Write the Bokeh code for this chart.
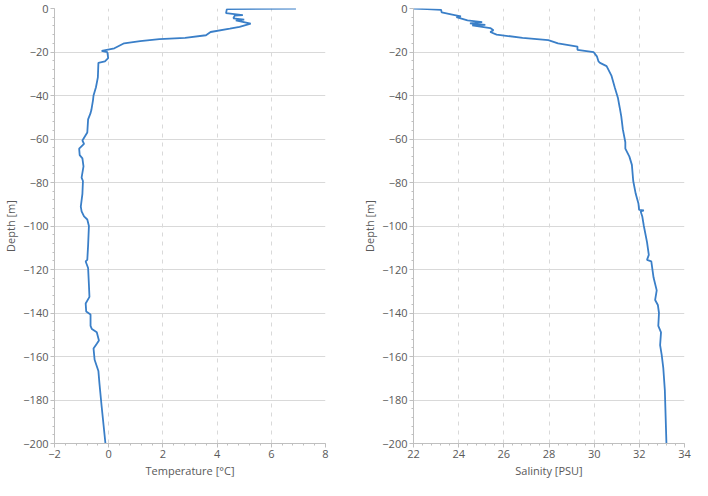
from bokeh.plotting import figure
from bokeh.layouts import row
from bokeh.models import FixedTicker
from bokeh.embed import file_html
from bokeh.resources import INLINE

# Temperature profile (depth in m, temperature in °C)
temp_depth = [0, -0.3, -2.1, -3.0, -3.3, -4.5, -5.1, -5.5, -7.0, -8.5, -9.3, -10.8, -12.3, -13.5,
              -14.1, -15.0, -16.0, -18.3, -19.5, -20.1, -22.8, -24.3, -25.0, -31.7, -36.2, -40.0,
              -42.2, -46.7, -48.1, -51.0, -57.0, -60.7, -62.2, -64.4, -67.4, -68.9, -72.6, -77.8,
              -79.3, -85.2, -91.1, -93.3, -95.6, -97.0, -100.0, -108.9, -115.6, -116.3, -119.3,
              -127.0, -132.6, -135.6, -139.3, -140.7, -145.9, -147.4, -148.9, -152.6, -154.1,
              -156.3, -161.5, -166.7, -172.6, -183.0, -200.0]
temp_values = [6.91, 4.36, 4.33, 4.95, 4.65, 4.60, 5.00, 4.69, 5.24, 4.83, 4.47, 3.76, 3.59, 2.82,
               1.87, 1.16, 0.57, 0.21, -0.26, -0.05, -0.02, -0.14, -0.38, -0.40, -0.47, -0.56,
               -0.58, -0.64, -0.67, -0.76, -0.79, -0.97, -0.91, -1.09, -1.07, -0.97, -0.93, -1.00,
               -0.95, -0.97, -1.03, -1.00, -0.91, -0.79, -0.73, -0.76, -0.79, -0.85, -0.76,
               -0.73, -0.71, -0.85, -0.83, -0.67, -0.67, -0.62, -0.44, -0.36, -0.44,
               -0.56, -0.52, -0.38, -0.34, -0.26, -0.12]

# Salinity profile (depth in m, salinity in PSU)
sal_depth = [0, -0.3, -0.6, -1.8, -3.0, -3.6, -4.0, -5.5, -6.3, -6.8, -7.5, -7.8, -9.0, -10.0,
             -10.8, -12.0, -13.5, -14.5, -16.0, -17.5, -19.0, -20.1, -22.0, -24.3, -25.0, -26.5,
             -31.0, -36.2, -41.0, -45.5, -49.6, -55.6, -61.5, -64.4, -68.1, -71.9, -79.3, -85.2,
             -89.6, -92.6, -92.8, -93.3, -95.6, -100.0, -107.4, -113.3, -115.6, -116.3, -123.7,
             -129.6, -134.0, -136.3, -140.0, -145.9, -148.9, -154.8, -159.3, -165.2, -175.6, -200.0]
sal_values = [22.0, 22.6, 23.22, 23.25, 23.82, 24.10, 23.90, 24.39, 25.04, 24.50, 25.18, 24.60,
              25.40, 25.54, 25.40, 25.68, 26.83, 27.97, 28.40, 29.26, 29.26, 29.98, 30.12, 30.19,
              30.26, 30.55, 30.77, 30.91, 31.05, 31.13, 31.20, 31.27, 31.38, 31.38, 31.56, 31.67,
              31.73, 31.84, 31.96, 31.99, 32.20, 32.06, 32.13, 32.20, 32.34, 32.42, 32.34, 32.53,
              32.63, 32.77, 32.70, 32.82, 32.87, 32.84, 32.96, 32.92, 32.99, 33.06, 33.13, 33.20]

depth_ticks = [-200, -180, -160, -140, -120, -100, -80, -60, -40, -20, 0]
temp_ticks = [-2, 0, 2, 4, 6, 8]
sal_ticks = [22, 24, 26, 28, 30, 32, 34]

LINE = "#3a7fc8"
FONT = "Open Sans"
TXT = "#595959"
GRID = "#d9d9d9"


def minor_between(ticks, n=5):
    out = []
    for a, b in zip(ticks[:-1], ticks[1:]):
        step = (b - a) / n
        out.extend(a + step * k for k in range(n))
    out.append(ticks[-1])
    return out


def make(xr, xticks, xlabel, width, mbl, mbr):
    p = figure(width=width, height=480, x_range=xr, y_range=(-200, 0),
               output_backend="svg", toolbar_location=None,
               min_border_left=mbl, min_border_right=mbr, min_border_top=8,
               min_border_bottom=30)
    p.outline_line_color = None
    p.background_fill_color = "white"
    p.border_fill_color = "white"
    p.xaxis.ticker = FixedTicker(ticks=xticks, minor_ticks=minor_between(xticks))
    p.yaxis.ticker = FixedTicker(ticks=depth_ticks, minor_ticks=minor_between(depth_ticks))
    for ax in (p.xaxis[0], p.yaxis[0]):
        ax.axis_line_color = "#bfbfbf"
        ax.major_tick_line_color = "#bfbfbf"
        ax.minor_tick_line_color = "#bfbfbf"
        ax.major_tick_out = 4
        ax.major_tick_in = 0
        ax.minor_tick_out = 2
        ax.minor_tick_in = 0
        ax.major_label_text_font = FONT
        ax.major_label_text_font_size = "11px"
        ax.major_label_text_color = TXT
        ax.axis_label_text_font = FONT
        ax.axis_label_text_font_size = "11px"
        ax.axis_label_text_font_style = "normal"
        ax.axis_label_text_color = TXT
        ax.major_label_standoff = 2
        ax.axis_label_standoff = 2
    p.xaxis.axis_label = xlabel
    p.yaxis.axis_label = "Depth [m]"
    p.xgrid.grid_line_color = GRID
    p.xgrid.grid_line_dash = "4 5"
    p.ygrid.grid_line_color = GRID
    return p


p1 = make((-2, 8), temp_ticks, "Temperature [°C]", 348, 44, 23)
p1.line(temp_values, temp_depth, line_color=LINE, line_width=1.8)

p2 = make((22, 34), sal_ticks, "Salinity [PSU]", 344, 65, 8)
p2.line(sal_values, sal_depth, line_color=LINE, line_width=1.8)

layout = row(p1, p2)
open("out.html", "w").write(file_html(layout, INLINE))
